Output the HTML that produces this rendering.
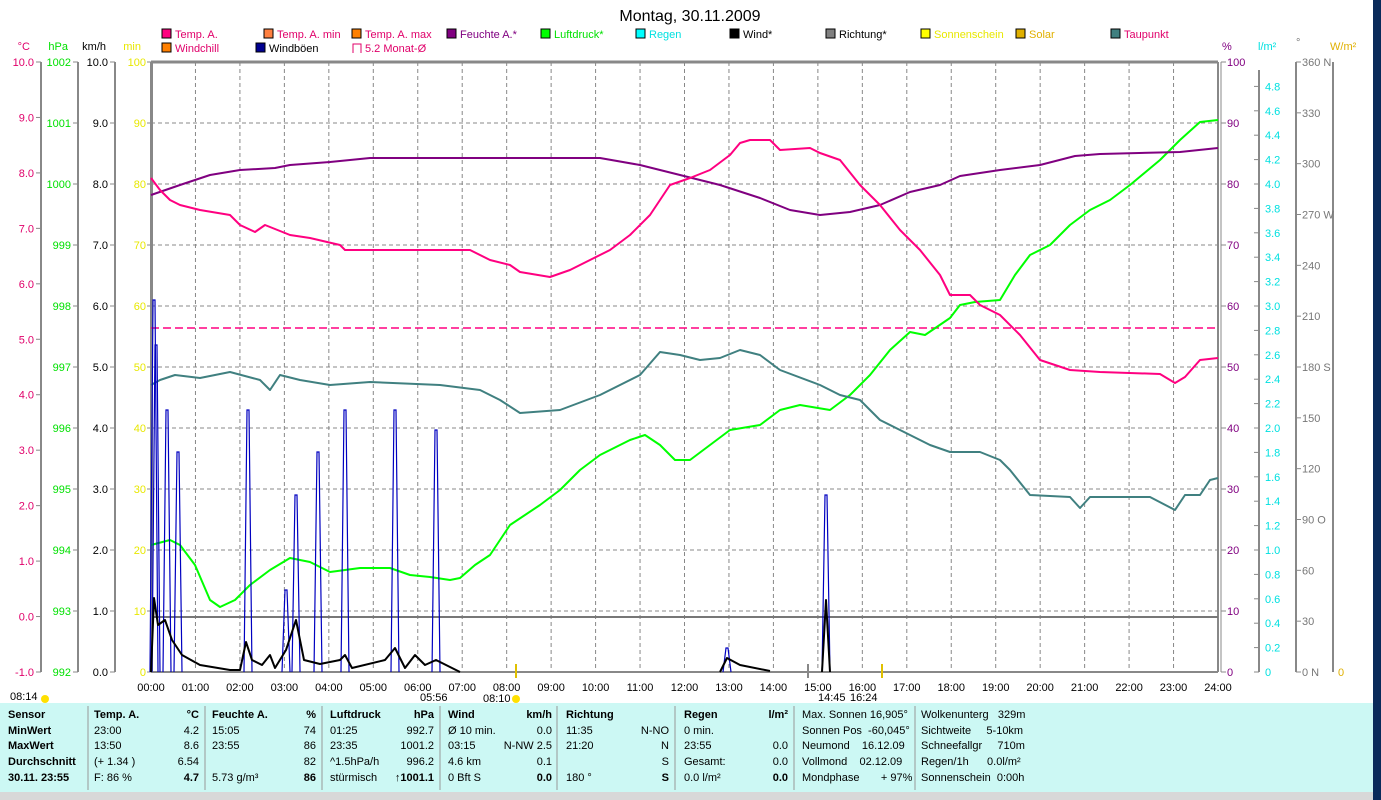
<!DOCTYPE html>
<html><head><meta charset="utf-8">
<style>
body{margin:0;background:#fff;width:1381px;height:800px;overflow:hidden;font-family:"Liberation Sans",sans-serif}
svg{position:absolute;left:0;top:0}
text{font-family:"Liberation Sans",sans-serif;font-size:11px}
</style></head><body>
<svg id="s" width="1381" height="800" xmlns="http://www.w3.org/2000/svg">
<rect x="0" y="0" width="1381" height="800" fill="#fff"/>
<rect x="1373" y="0" width="8" height="800" fill="#0a2a5a"/>
<text x="690" y="21" text-anchor="middle" style="font-size:16px">Montag, 30.11.2009</text>
<g id="g"></g>
</svg>
<script>
const g=document.getElementById('g');let h='';
const X0=151,X1=1218,Y0=62,Y1=672;
function t(x,y,s,c,a,extra){h+=`<text x="${x}" y="${y}" fill="${c||'#000'}" text-anchor="${a||'start'}" ${extra||''}>${s}</text>`;}
function l(x1,y1,x2,y2,c,w,d){h+=`<line x1="${x1}" y1="${y1}" x2="${x2}" y2="${y2}" stroke="${c}" stroke-width="${w||1}" ${d?`stroke-dasharray="${d}"`:''}/>`;}
function p(pts,c,w){h+=`<polyline points="${pts}" fill="none" stroke="${c}" stroke-width="${w||2}" stroke-linejoin="round"/>`;}
// grid
for(let i=1;i<24;i++){let x=X0+i*(X1-X0)/24;l(x,Y0,x,Y1,'#888',1,'4,3');}
for(let i=1;i<10;i++){let y=Y0+i*61;l(X0,y,X1,y,'#888',1,'4,3');}
l(X0,Y0,X1,Y0,'#888',3);l(X0,Y0,X0,Y1,'#888',2);l(X1,Y0,X1,Y1,'#888',2);l(X1+3,Y0,X1+3,Y1,'#888',1);l(X0,Y1,X1,Y1,'#888',2);
l(X0,617,X1,617,'#777',2);
// left axes
const ax=[[41,'#e0006a'],[78,'#00e000'],[115,'#000'],[152,'#e8e800']];
ax.forEach(a=>l(a[0],Y0,a[0],Y1,'#888',2));
for(let i=0;i<=11;i++){let y=Y0+i*610/11;l(36,y,41,y,'#888');t(34,y+4,(10-i).toFixed(1),'#e0006a','end');}
for(let i=0;i<=10;i++){let y=Y0+i*61;l(73,y,78,y,'#888');t(71,y+4,1002-i,'#00e000','end');
 l(110,y,115,y,'#888');t(108,y+4,(10-i).toFixed(1),'#000','end');
 l(147,y,152,y,'#888');t(146,y+4,100-i*10,'#e8e800','end');
 l(1221,y,1226,y,'#888');t(1227,y+4,100-i*10,'#800080');}
t(30,50,'°C','#e0006a','end');t(68,50,'hPa','#00e000','end');t(106,50,'km/h','#000','end');t(141,50,'min','#e8e800','end');
// right axes
l(1259,70,1259,Y1,'#888',2);l(1296,Y0,1296,Y1,'#888',2);l(1333,Y0,1333,Y1,'#888',2);
for(let i=0;i<=24;i++){let v=i*0.2,y=Y1-i*24.4;l(1254,y,1259,y,'#888');t(1265,y+4,i==0?'0':v.toFixed(1),'#00e0e0');}
const dl={360:' N',270:' W',180:' S',90:' O',0:' N'};
for(let i=0;i<=12;i++){let v=360-i*30,y=Y0+i*610/12;l(1296,y,1301,y,'#888');t(1302,y+4,v+(dl[v]||''),'#777');}
t(1338,676,'0','#e0b000');
t(1222,50,'%','#800080');t(1258,50,'l/m²','#00e0e0');t(1296,46,'°','#777');t(1330,50,'W/m²','#e0b000');
// legend
const lg=[[162,38,'Temp. A.','#ff0080','#e0006a'],[264,38,'Temp. A. min','#ff8040','#e0006a'],[352,38,'Temp. A. max','#ff8000','#e0006a'],[447,38,'Feuchte A.*','#800080','#800080'],[541,38,'Luftdruck*','#00ff00','#00e000'],[636,38,'Regen','#00ffff','#00e0e0'],[730,38,'Wind*','#000','#000'],[826,38,'Richtung*','#808080','#000'],[921,38,'Sonnenschein','#ffff00','#e8e800'],[1016,38,'Solar','#e0b000','#e0b000'],[1111,38,'Taupunkt','#408080','#e0006a'],[162,52,'Windchill','#ff8000','#e0006a'],[256,52,'Windböen','#000090','#000']];
lg.forEach(e=>{h+=`<rect x="${e[0]}" y="${e[1]-9}" width="9" height="9" fill="${e[3]}" stroke="#000" stroke-width="1"/>`;t(e[0]+13,e[1],e[2],e[4]);});
h+=`<path d="M353 53V44h8v9" fill="none" stroke="#e0006a"/>`;t(365,52,'5.2 Monat-Ø','#e0006a');
// monthly avg
l(X0,328,X1,328,'#ff0080',1.5,'8,4');
// series
p('151,545 170,540 180,545 195,565 210,600 220,607 235,600 250,585 270,570 290,558 310,562 330,572 360,568 390,568 410,575 430,577 450,580 460,578 475,565 490,555 510,525 540,505 560,490 580,470 600,455 630,440 645,435 660,445 675,460 690,460 710,445 730,430 760,425 780,410 800,405 830,410 850,395 870,375 890,350 910,332 925,335 950,318 960,305 975,302 1000,300 1015,275 1030,255 1050,245 1070,225 1090,210 1110,200 1130,185 1160,160 1180,140 1200,122 1218,120','#00ff00');
p('151,385 160,380 175,375 200,378 230,372 260,380 270,390 280,375 300,380 330,385 370,382 440,385 480,390 500,400 520,413 560,410 600,395 640,375 660,352 680,355 700,360 720,358 740,350 760,355 780,370 820,385 840,395 860,400 880,420 900,430 930,445 950,452 980,452 1000,460 1010,470 1030,495 1070,497 1080,508 1090,497 1150,497 1175,510 1185,495 1200,495 1210,480 1218,478','#408080');
p('151,195 180,185 210,175 240,170 275,168 290,165 330,162 370,158 600,158 640,165 680,175 720,185 760,198 790,210 820,215 850,212 880,205 910,192 940,185 960,176 1000,170 1040,165 1075,156 1100,154 1180,152 1218,148','#800080');
p('151,178 160,190 170,200 180,205 200,210 230,215 240,225 255,232 265,225 290,235 310,238 340,245 345,250 470,250 490,260 510,265 520,272 550,277 570,270 590,260 610,250 630,235 650,215 670,185 690,178 710,170 730,155 740,143 750,140 770,140 780,150 810,148 820,153 840,160 860,185 880,205 900,230 920,250 940,275 950,295 970,295 980,305 1000,315 1020,335 1040,360 1070,370 1100,372 1160,374 1175,383 1185,377 1200,360 1218,358','#ff0080');
// gust spikes
[[154,300],[156,345],[167,410],[178,452],[248,410],[286,590],[296,495],[318,452],[345,410],[395,410],[436,430],[727,648],[826,495]].forEach(s=>{h+=`<polyline points="${s[0]-4},672 ${s[0]-1},${s[1]} ${s[0]+1},${s[1]} ${s[0]+4},672" fill="none" stroke="#0000c0" stroke-width="1.2"/>`;});
p('151,672 154,598 158,625 165,620 172,640 182,655 200,665 230,670 240,670 246,642 252,660 262,665 270,655 275,668 286,650 296,620 304,660 320,664 340,660 345,655 352,668 385,660 395,648 405,668 415,655 425,665 436,660 460,672','#000',2);
p('720,672 727,658 740,665 770,671','#000',2);p('822,672 826,600 830,672','#000',2);
// x labels
for(let i=0;i<=24;i++){let x=X0+i*(X1-X0)/24;t(x,691,(i<10?'0':'')+i+':00','#000','middle');}
t(10,700,'08:14');h+=`<circle cx="45" cy="699" r="4" fill="#ffe000"/>`;
t(420,701,'05:56');t(483,702,'08:10');h+=`<circle cx="516" cy="699" r="4" fill="#ffe000"/>`;
t(818,701,'14:45');t(850,701,'16:24');
l(516,664,516,678,'#e0c000',2);l(882,664,882,678,'#e0c000',2);l(808,664,808,678,'#888',2);
// table
h+=`<rect x="0" y="703" width="1373" height="89" fill="#ccf8f4"/><rect x="0" y="792" width="1373" height="8" fill="#d8d8d8"/>`;
[88,205,322,440,557,675,794,915].forEach(x=>l(x,706,x,790,'#999',1));
const R=[718,734,749,765,781];
const B='font-weight="bold"';
const rows=[
[[8,'Sensor',1],[8,'MinWert',1],[8,'MaxWert',1],[8,'Durchschnitt',1],[8,'30.11. 23:55',1]]];
['Sensor','MinWert','MaxWert','Durchschnitt','30.11. 23:55'].forEach((s,i)=>t(8,R[i],s,'#000','start',B));
function col(x,xr,L,Rr){L.forEach((s,i)=>{if(s)t(x,R[i],s,'#000','start',i==0?B:'');});Rr.forEach((s,i)=>{if(s)t(xr,R[i],s,'#000','end',(i==0||i==4)?B:'');});}
col(94,199,['Temp. A.',' 23:00',' 13:50',' (+ 1.34 )','F: 86 %'],['°C','4.2','8.6','6.54','4.7']);
col(212,316,['Feuchte A.',' 15:05',' 23:55','','5.73 g/m³'],['%','74','86','82','86']);
col(330,434,['Luftdruck',' 01:25',' 23:35','^1.5hPa/h','stürmisch'],['hPa','992.7','1001.2','996.2','↑1001.1']);
col(448,552,['Wind','Ø 10 min.',' 03:15',' 4.6 km',' 0 Bft S'],['km/h','0.0','N-NW 2.5','0.1','0.0']);
col(566,669,['Richtung',' 11:35',' 21:20','',' 180 °'],['','N-NO','N','S','S']);
col(684,788,['Regen','0 min.',' 23:55','Gesamt:',' 0.0 l/m²'],['l/m²','','0.0','0.0','0.0']);
['Max. Sonnen 16,905°','Sonnen Pos  -60,045°','Neumond    16.12.09','Vollmond    02.12.09','Mondphase       + 97%'].forEach((s,i)=>t(802,R[i],s,'#000','start','xml:space="preserve"'));
['Wolkenunterg   329m','Sichtweite     5-10km','Schneefallgr     710m','Regen/1h      0.0l/m²','Sonnenschein  0:00h'].forEach((s,i)=>t(921,R[i],s,'#000','start','xml:space="preserve"'));
g.innerHTML=h;
</script>
</body></html>
